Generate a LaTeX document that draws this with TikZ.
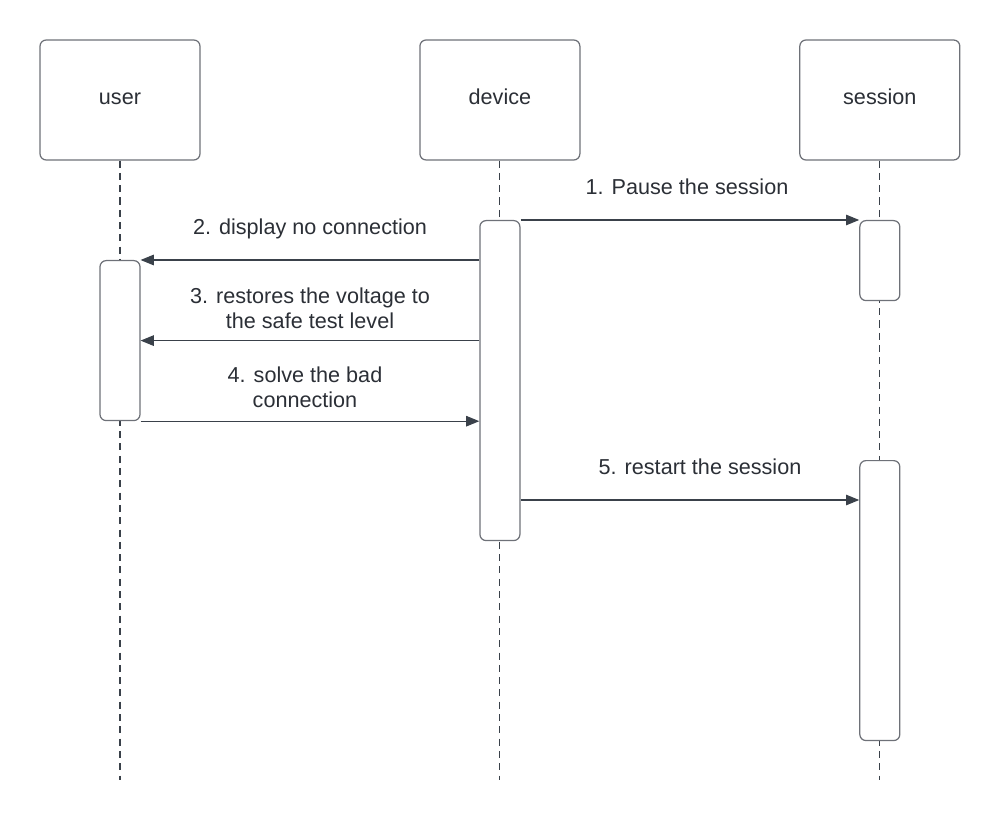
\documentclass[tikz,border=0pt]{standalone}
\usepackage{fontspec}
\setmainfont{Liberation Sans}
\usepackage{tikz}
\usetikzlibrary{
  arrows.meta,
  positioning
}
\definecolor{linegray}{HTML}{3A414A}
\definecolor{boxgray}{HTML}{6E7178}
\definecolor{textgray}{HTML}{2B2F36}
\tikzset{
  headbox/.style={draw=boxgray, rounded corners=3.5pt, fill=white, line width=0.7pt,
    minimum width=3.2cm, minimum height=2.4cm,
    align=center, text=textgray, text height=0.75em, text depth=0.25em,
    font=\fontsize{12.3}{14.2}\selectfont},
  actbox/.style={draw=boxgray, rounded corners=3.5pt, fill=white, line width=0.7pt,
    minimum width=0.8cm, inner sep=0pt, anchor=north},
  lifeline/.style={draw=linegray, line width=0.6pt, dash pattern=on 4pt off 3pt},
  msg/.style={-{Triangle[length=7.5pt, width=6pt]}, draw=linegray, line width=0.6pt},
  msglabel/.style={align=center, text=textgray, inner sep=0pt,
    text height=0.75em, text depth=0.25em,
    font=\fontsize{12.3}{14.2}\selectfont},
}

\begin{document}
\begin{tikzpicture}[x=0.02cm, y=-0.02cm]
  \useasboundingbox (0,0) rectangle (1000,820);

  % Top: participants
  \node[headbox] (user) at (120,100) {user};
  \node[headbox, right=4.375cm of user] (device) {device};
  \node[headbox, right=4.375cm of device] (session) {session};

  % Lifelines
  \coordinate (userend) at (user |- 0,780);
  \coordinate (deviceend) at (device |- 0,780);
  \coordinate (sessionend) at (session |- 0,780);
  \draw[lifeline] (user.south) -- (userend);
  \draw[lifeline] (device.south) -- (deviceend);
  \draw[lifeline] (session.south) -- (sessionend);

  % Activation bars
  \node[actbox, minimum height=3.2cm] (useract) at (user |- 0,260) {};
  \node[actbox, minimum height=6.4cm] (devact) at (device |- 0,220) {};
  \node[actbox, minimum height=1.6cm] (sesact1) at (session |- 0,220) {};
  \node[actbox, minimum height=5.6cm] (sesact2) at (session |- 0,460) {};

  % Messages
  \draw[msg] (devact.north east) -- (sesact1.north west);
  \draw[msg] (devact.west |- useract.north) -- (useract.north east);
  \draw[msg] (devact.west |- useract.east) -- (useract.east);
  \draw[msg] (useract.south east) -- (devact.west |- useract.south);
  \draw[msg] (devact.east |- 0,500) -- (sesact2.west |- 0,500);

  % Message labels
  \node[msglabel] (lbl1) at (687,190) {1. Pause the session};
  \node[msglabel] (lbl2) at (310,230.5) {2. display no connection};
  \node[msglabel] (lbl3) at (310,324) {3. restores the voltage to\\the safe test level};
  \node[msglabel] (lbl4) at (305,403) {4. solve the bad\\connection};
  \node[msglabel] (lbl5) at (700,470) {5. restart the session};
\end{tikzpicture}
\end{document}
